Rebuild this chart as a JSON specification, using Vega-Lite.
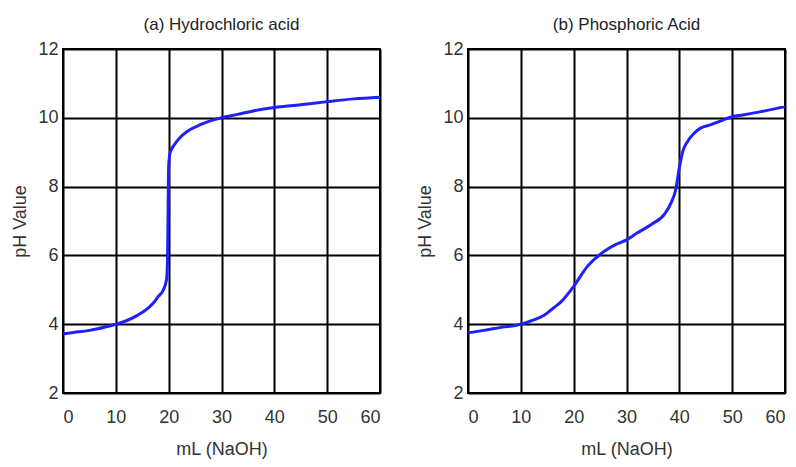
{
  "$schema": "https://vega.github.io/schema/vega-lite/v6.json",
  "background": "white",
  "padding": {"left": 10, "top": 15, "right": 8, "bottom": 5},
  "spacing": 28,
  "config": {
    "font": "Liberation Sans",
    "view": {"stroke": "black", "strokeWidth": 2},
    "axis": {
      "grid": true, "gridColor": "black", "gridWidth": 2, "gridOpacity": 1,
      "domain": false, "ticks": false,
      "labelFont": "Liberation Sans", "labelFontSize": 18, "labelColor": "#333",
      "titleFont": "Liberation Sans", "titleFontSize": 18, "titleFontWeight": "normal", "titleColor": "#333"
    },
    "title": {"font": "Liberation Sans", "fontSize": 17, "fontWeight": "normal", "color": "#222", "offset": 6}
  },
  "datasets": {
    "hcl": [
      {"ml": 0, "ph": 3.72}, {"ml": 2, "ph": 3.76}, {"ml": 5, "ph": 3.82}, {"ml": 8, "ph": 3.92},
      {"ml": 10, "ph": 4.0}, {"ml": 12, "ph": 4.1}, {"ml": 14, "ph": 4.25}, {"ml": 16, "ph": 4.45},
      {"ml": 17, "ph": 4.6}, {"ml": 18, "ph": 4.8}, {"ml": 19, "ph": 5.0}, {"ml": 19.6, "ph": 5.3},
      {"ml": 19.8, "ph": 6.0}, {"ml": 19.9, "ph": 7.5}, {"ml": 20, "ph": 8.6}, {"ml": 20.3, "ph": 9.0},
      {"ml": 21, "ph": 9.2}, {"ml": 22, "ph": 9.4}, {"ml": 24, "ph": 9.65}, {"ml": 26, "ph": 9.8},
      {"ml": 28, "ph": 9.92}, {"ml": 30, "ph": 10.0}, {"ml": 33, "ph": 10.1}, {"ml": 36, "ph": 10.2},
      {"ml": 40, "ph": 10.3}, {"ml": 45, "ph": 10.38}, {"ml": 50, "ph": 10.47}, {"ml": 55, "ph": 10.55},
      {"ml": 60, "ph": 10.6}
    ],
    "h3po4": [
      {"ml": 0, "ph": 3.75}, {"ml": 3, "ph": 3.82}, {"ml": 6, "ph": 3.9}, {"ml": 10, "ph": 4.0},
      {"ml": 12, "ph": 4.1}, {"ml": 14.4, "ph": 4.26}, {"ml": 16, "ph": 4.45}, {"ml": 17.6, "ph": 4.65},
      {"ml": 20, "ph": 5.1}, {"ml": 22.6, "ph": 5.68}, {"ml": 25.8, "ph": 6.12}, {"ml": 28, "ph": 6.32},
      {"ml": 30, "ph": 6.45}, {"ml": 32, "ph": 6.65}, {"ml": 34.7, "ph": 6.9}, {"ml": 37.2, "ph": 7.2},
      {"ml": 38.5, "ph": 7.55}, {"ml": 39.3, "ph": 7.9}, {"ml": 40, "ph": 8.55}, {"ml": 40.7, "ph": 9.05},
      {"ml": 41.5, "ph": 9.3}, {"ml": 42.8, "ph": 9.55}, {"ml": 44, "ph": 9.7}, {"ml": 46, "ph": 9.8},
      {"ml": 48, "ph": 9.92}, {"ml": 50, "ph": 10.03}, {"ml": 52, "ph": 10.08}, {"ml": 55.5, "ph": 10.18},
      {"ml": 58, "ph": 10.26}, {"ml": 60, "ph": 10.33}
    ]
  },
  "hconcat": [
    {
      "title": "(a) Hydrochloric acid",
      "width": 317, "height": 344,
      "data": {"name": "hcl"},
      "mark": {"type": "line", "color": "#1f1fff", "strokeWidth": 3, "interpolate": "monotone"},
      "encoding": {
        "x": {"field": "ml", "type": "quantitative", "scale": {"domain": [0, 60], "nice": false},
              "axis": {"values": [0, 10, 20, 30, 40, 50, 60], "title": "mL (NaOH)", "labelPadding": 15, "titlePadding": 14}},
        "y": {"field": "ph", "type": "quantitative", "scale": {"domain": [2, 12], "nice": false, "zero": false},
              "axis": {"values": [2, 4, 6, 8, 10, 12], "title": "pH Value", "labelPadding": 5, "titlePadding": 8}}
      }
    },
    {
      "title": "(b) Phosphoric Acid",
      "width": 317, "height": 344,
      "data": {"name": "h3po4"},
      "mark": {"type": "line", "color": "#1f1fff", "strokeWidth": 3, "interpolate": "monotone"},
      "encoding": {
        "x": {"field": "ml", "type": "quantitative", "scale": {"domain": [0, 60], "nice": false},
              "axis": {"values": [0, 10, 20, 30, 40, 50, 60], "title": "mL (NaOH)", "labelPadding": 15, "titlePadding": 14}},
        "y": {"field": "ph", "type": "quantitative", "scale": {"domain": [2, 12], "nice": false, "zero": false},
              "axis": {"values": [2, 4, 6, 8, 10, 12], "title": "pH Value", "labelPadding": 5, "titlePadding": 8}}
      }
    }
  ]
}
